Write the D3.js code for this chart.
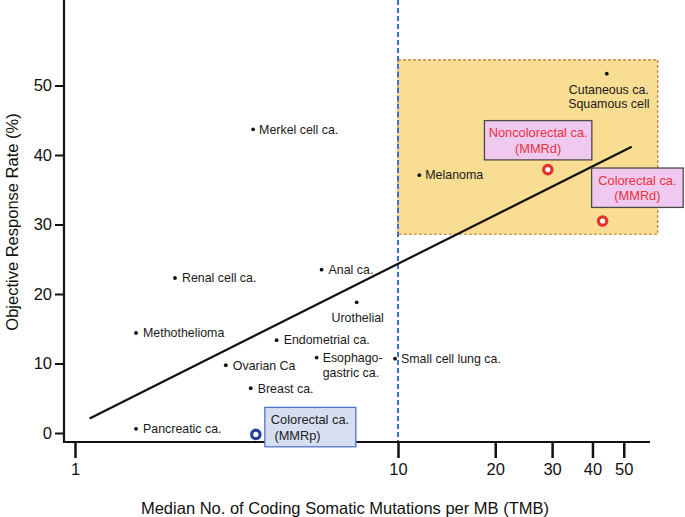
<!DOCTYPE html>
<html><head><meta charset="utf-8">
<script src="https://cdn.jsdelivr.net/npm/d3@7"></script>
<style>
body{margin:0;background:#fff;}
text{font-family:"Liberation Sans",Arial,Helvetica,sans-serif;}
</style></head>
<body><svg id="c" width="685" height="517"></svg>
<script>
// ---- data ----
const cancers = ["Merkel cell ca.","Renal cell ca.","Methothelioma","Pancreatic ca.","Ovarian Ca","Breast ca.","Endometrial ca.","Esophago-|gastric ca.","Anal ca.","Urothelial","Small cell lung ca.","Melanoma","Cutaneous ca.|Squamous cell"];
const tmb =      [3.56, 2.04, 1.545, 1.545, 2.93, 3.50, 4.21, 5.60, 5.80, 7.45, 9.79, 11.64, 44.3];
const orr =      [43.7, 22.3, 14.4, 0.6, 9.75, 6.44, 13.36, 10.85, 23.5, 18.8, 10.7, 37.1, 51.7];
const ringNames = ["Noncolorectal ca.|(MMRd)","Colorectal ca.|(MMRd)","Colorectal ca.| (MMRp)"];
const ringTmb =  [29.1, 43.0, 3.63];
const ringOrr =  [37.9, 30.5, -0.2];
const trendTmb = [1.11, 52.9];
const trendOrr = [2.1, 41.2];
const xTicks = [1, 10, 20, 30, 40, 50];
const yTicks = [0, 10, 20, 30, 40, 50];
const highRegionTmb = [10, 63.7];
const highRegionOrr = [28.6, 53.7];
const tmbCutoff = 10;

// ---- layout (label placement, not data) ----
const labelPos = [ // [dx, dy, anchor]
  [6,0,"start"],[7,0,"start"],[7,0,"start"],[7,0,"start"],[7,0,"start"],[7,0,"start"],[7,0,"start"],
  [6,0,"start"],[7,0,"start"],[1,15,"middle"],[6,0,"start"],[6,0,"start"],[2,15.7,"middle"]];
const ringBox = [ // box [x0 offset, y0 offset, w, h], colours
  {dx:-63.4, dy:-49, w:107.4, h:39.3, fill:"#efc9ef", stroke:"#4a4a4a", text:"#e8323c"},
  {dx:-11, dy:-53, w:91.6, h:39.4, fill:"#efc9ef", stroke:"#4a4a4a", text:"#e8323c"},
  {dx:9, dy:-27, w:91, h:39.4, fill:"#d6def2", stroke:"#4f74c8", text:"#222", anchor:"start"}];
const ringCol = ["#e5322d","#e5322d","#283f9c"];

const svg = d3.select("#c");
const x = d3.scaleLog().domain([1, 10]).range([75, 398]);
const y = d3.scaleLinear().domain([0, 50]).range([433, 85.5]);
const axisY = 442, axisX = 64, xEnd = 650;

// highlight region
svg.append("rect")
  .attr("x", x(highRegionTmb[0])).attr("y", y(highRegionOrr[1]))
  .attr("width", x(highRegionTmb[1]) - x(highRegionTmb[0]))
  .attr("height", y(highRegionOrr[0]) - y(highRegionOrr[1]))
  .attr("fill", "#f9dd92").attr("stroke", "#c9702e").attr("stroke-width", 1.2)
  .attr("stroke-dasharray", "3,2");

// cutoff line
svg.append("line").attr("x1", x(tmbCutoff)).attr("x2", x(tmbCutoff))
  .attr("y1", 0).attr("y2", axisY)
  .attr("stroke", "#3d6fd0").attr("stroke-width", 2).attr("stroke-dasharray", "5,3");

// axes
const yAxis = d3.axisLeft(y).tickValues(yTicks).tickSize(9).tickPadding(3);
const gy = svg.append("g").attr("transform", `translate(${axisX},0)`).call(yAxis);
gy.select(".domain").remove();
gy.append("line").attr("x1",0).attr("x2",0).attr("y1",0).attr("y2",axisY+1).attr("stroke","#111").attr("stroke-width",2.2);
gy.selectAll(".tick line").attr("stroke","#111").attr("stroke-width",2);
gy.selectAll(".tick text").attr("font-size",16.5).attr("fill","#111").attr("font-family","Liberation Sans, Arial, sans-serif");

const xAxis = d3.axisBottom(x).tickValues(xTicks).tickFormat(d3.format("d")).tickSize(16).tickPadding(5);
const gx = svg.append("g").attr("transform", `translate(0,${axisY})`).call(xAxis);
gx.select(".domain").remove();
gx.append("line").attr("x1",axisX-1).attr("x2",xEnd).attr("y1",0).attr("y2",0).attr("stroke","#111").attr("stroke-width",2.2);
gx.selectAll(".tick line").attr("stroke","#111").attr("stroke-width",2.5);
gx.selectAll(".tick text").attr("font-size",16.5).attr("fill","#111").attr("font-family","Liberation Sans, Arial, sans-serif");

// axis titles
svg.append("text").attr("x", 345).attr("y", 514).attr("text-anchor","middle")
  .attr("font-size",16.5).attr("fill","#111").text("Median No. of Coding Somatic Mutations per MB (TMB)");
svg.append("text").attr("transform","translate(18,222) rotate(-90)").attr("text-anchor","middle")
  .attr("font-size",16.5).attr("fill","#111").text("Objective Response Rate (%)");

// trend line
svg.append("line").attr("x1", x(trendTmb[0])).attr("y1", y(trendOrr[0]))
  .attr("x2", x(trendTmb[1])).attr("y2", y(trendOrr[1]))
  .attr("stroke","#111").attr("stroke-width",2.2);

// points
const pts = cancers.map((n,i)=>({n, t:tmb[i], o:orr[i], lp:labelPos[i]}));
const pg = svg.append("g");
pg.selectAll("circle").data(pts).join("circle")
  .attr("cx", d=>x(d.t)).attr("cy", d=>y(d.o)).attr("r", 1.9).attr("fill","#111");
pts.forEach(d=>{
  const lines = d.n.split("|");
  const t = pg.append("text").attr("font-size",12.4).attr("fill","#1a1a1a")
    .attr("text-anchor", d.lp[2]);
  lines.forEach((l,k)=>{
    t.append("tspan").attr("x", x(d.t)+d.lp[0]).attr("y", y(d.o)+d.lp[1]+k*14.7)
      .attr("dy","0.35em").text(l);
  });
});

// ring points with boxes
ringNames.forEach((n,i)=>{
  const cx = x(ringTmb[i]), cy = y(ringOrr[i]), b = ringBox[i];
  svg.append("rect").attr("x", cx+b.dx).attr("y", cy+b.dy).attr("width", b.w).attr("height", b.h)
    .attr("fill", b.fill).attr("stroke", b.stroke).attr("stroke-width",1.3);
  const lines = n.split("|");
  const anchor = b.anchor || "middle";
  const tx = anchor==="middle" ? cx+b.dx+b.w/2 : cx+b.dx+6;
  const t = svg.append("text").attr("font-size",12.8).attr("fill", b.text).attr("text-anchor", anchor)
    .attr("xml:space","preserve");
  lines.forEach((l,k)=>{
    t.append("tspan").attr("x", tx).attr("y", cy+b.dy+b.h/2-7.5+k*15.5).attr("dy","0.35em").text(l);
  });
  svg.append("circle").attr("cx",cx).attr("cy",cy).attr("r",4.2)
    .attr("fill","#fff").attr("stroke", ringCol[i]).attr("stroke-width",3.2);
});
</script></body></html>
